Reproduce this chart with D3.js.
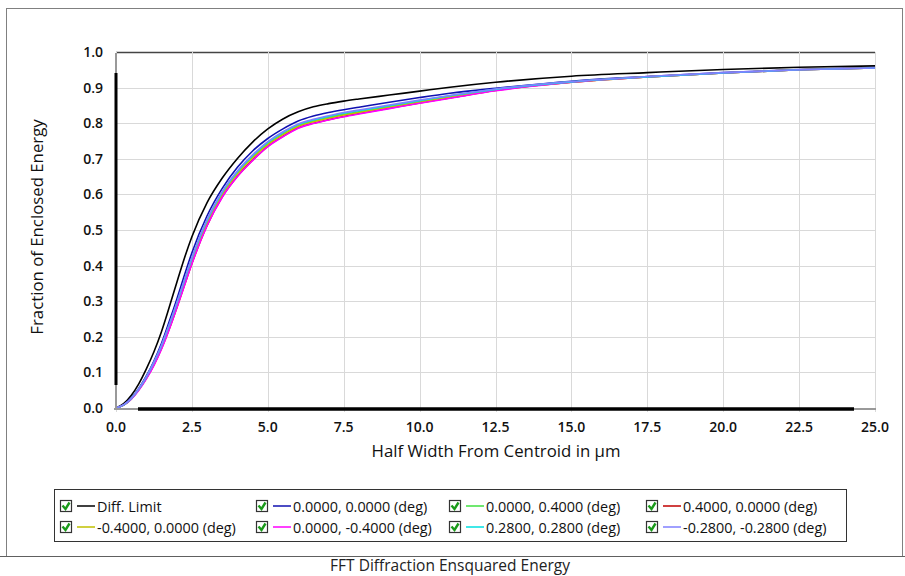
<!DOCTYPE html>
<html lang="en">
<head>
<meta charset="UTF-8">
<title>FFT Diffraction Ensquared Energy</title>
<style>
  body { margin: 0; background: #fff; }
  svg { display: block; font-family: "Open Sans", "Noto Sans", sans-serif; }
</style>
</head>
<body>
<script src="https://d3js.org/d3.v7.min.js"></script>
<script>
// half width from centroid (um)
var halfWidth = [0, 0.25, 0.5, 0.75, 1.0, 1.25, 1.5, 1.75, 2.0, 2.25, 2.5, 3.0, 3.5, 4.0, 4.5, 5.0, 5.5, 6.0, 6.5, 7.0, 7.5, 8, 9, 10, 11, 12.5, 15, 17.5, 20, 22.5, 25];

var diffLimit = [0, 0.012, 0.035, 0.068, 0.110, 0.158, 0.215, 0.282, 0.352, 0.420, 0.481, 0.577, 0.646, 0.701, 0.747, 0.784, 0.812, 0.832, 0.846, 0.855, 0.862, 0.868, 0.879, 0.890, 0.901, 0.915, 0.932, 0.942, 0.951, 0.957, 0.961];
var f00_00 = [0, 0.009, 0.028, 0.055, 0.090, 0.132, 0.182, 0.242, 0.305, 0.372, 0.436, 0.540, 0.617, 0.676, 0.722, 0.757, 0.784, 0.806, 0.820, 0.830, 0.838, 0.845, 0.859, 0.872, 0.884, 0.898, 0.918, 0.931, 0.942, 0.951, 0.956];
var f00_04 = [0, 0.008, 0.026, 0.052, 0.085, 0.125, 0.172, 0.228, 0.288, 0.352, 0.415, 0.522, 0.602, 0.660, 0.705, 0.742, 0.770, 0.793, 0.806, 0.816, 0.825, 0.832, 0.847, 0.861, 0.875, 0.894, 0.916, 0.930, 0.941, 0.950, 0.955];
var f04_00 = [0, 0.008, 0.025, 0.051, 0.083, 0.121, 0.167, 0.221, 0.281, 0.344, 0.406, 0.513, 0.593, 0.651, 0.696, 0.735, 0.763, 0.787, 0.800, 0.810, 0.819, 0.827, 0.842, 0.857, 0.871, 0.892, 0.915, 0.930, 0.941, 0.950, 0.955];
var fm04_00 = [0, 0.008, 0.026, 0.052, 0.084, 0.124, 0.171, 0.226, 0.286, 0.350, 0.413, 0.520, 0.600, 0.658, 0.703, 0.740, 0.768, 0.791, 0.804, 0.814, 0.823, 0.830, 0.845, 0.859, 0.873, 0.893, 0.915, 0.930, 0.941, 0.950, 0.955];
var f00_m04 = [0, 0.008, 0.025, 0.050, 0.082, 0.120, 0.166, 0.220, 0.280, 0.343, 0.405, 0.512, 0.592, 0.650, 0.695, 0.734, 0.762, 0.786, 0.799, 0.809, 0.818, 0.826, 0.841, 0.856, 0.870, 0.891, 0.915, 0.930, 0.941, 0.950, 0.955];
var f028_028 = [0, 0.008, 0.026, 0.053, 0.087, 0.128, 0.175, 0.232, 0.293, 0.357, 0.420, 0.527, 0.606, 0.664, 0.709, 0.746, 0.774, 0.796, 0.809, 0.819, 0.828, 0.835, 0.849, 0.863, 0.877, 0.895, 0.916, 0.930, 0.941, 0.950, 0.955];
var fm028_m028 = [0, 0.009, 0.027, 0.054, 0.088, 0.129, 0.177, 0.234, 0.295, 0.359, 0.422, 0.529, 0.608, 0.666, 0.711, 0.748, 0.776, 0.798, 0.811, 0.821, 0.830, 0.837, 0.851, 0.865, 0.878, 0.896, 0.917, 0.931, 0.942, 0.950, 0.955];

var seriesNames = ["Diff. Limit", "0.0000, 0.0000 (deg)", "0.0000, 0.4000 (deg)", "0.4000, 0.0000 (deg)",
                   "-0.4000, 0.0000 (deg)", "0.0000, -0.4000 (deg)", "0.2800, 0.2800 (deg)", "-0.2800, -0.2800 (deg)"];
var seriesColors = ["#000000", "#1010b0", "#40e040", "#c00000", "#c0c000", "#ff00ff", "#00e0e0", "#8080ff"];
var seriesValues = [diffLimit, f00_00, f00_04, f04_00, fm04_00, f00_m04, f028_028, fm028_m028];

var xTicks = [0, 2.5, 5, 7.5, 10, 12.5, 15, 17.5, 20, 22.5, 25];
var yTicks = [0, 0.1, 0.2, 0.3, 0.4, 0.5, 0.6, 0.7, 0.8, 0.9, 1.0];

var width = 905, height = 576;
var plot = { left: 116, right: 875, top: 52, bottom: 408 };

var svg = d3.select('body').append('svg').attr('width', width).attr('height', height);

var x = d3.scaleLinear().domain([0, 25]).range([plot.left, plot.right]);
var y = d3.scaleLinear().domain([0, 1]).range([plot.bottom, plot.top]);

// outer frame
svg.append('rect').attr('x', 6.5).attr('y', 8.5).attr('width', 896).attr('height', 548)
    .attr('fill', 'none').attr('stroke', '#808080');
svg.append('line').attr('x1', 0).attr('x2', width).attr('y1', 556.5).attr('y2', 556.5)
    .attr('stroke', '#606060');

// grid
svg.append('g').selectAll('line').data(yTicks).enter().append('line')
    .attr('x1', plot.left).attr('x2', plot.right)
    .attr('y1', function(d) { return Math.round(y(d)) + 0.5; })
    .attr('y2', function(d) { return Math.round(y(d)) + 0.5; })
    .attr('stroke', function(d) { return d === 1 ? '#444' : '#d9d9d9'; })
    .attr('stroke-width', function(d) { return d === 1 ? 1.5 : 1; });
svg.append('g').selectAll('line').data(xTicks).enter().append('line')
    .attr('x1', function(d) { return Math.round(x(d)) + 0.5; })
    .attr('x2', function(d) { return Math.round(x(d)) + 0.5; })
    .attr('y1', plot.top).attr('y2', plot.bottom + 4)
    .attr('stroke', '#d9d9d9');

// curves
var line = d3.line()
    .x(function(d) { return x(d[0]); })
    .y(function(d) { return y(d[1]); })
    .curve(d3.curveMonotoneX);

seriesValues.forEach(function(vals, i) {
    svg.append('path')
        .datum(halfWidth.map(function(h, j) { return [h, vals[j]]; }))
        .attr('fill', 'none')
        .attr('stroke', seriesColors[i])
        .attr('stroke-width', 1.6)
        .attr('d', line);
});

// axis bars (scroll-like thick lines)
svg.append('line').attr('x1', plot.left).attr('x2', plot.left).attr('y1', plot.top + 1).attr('y2', 73)
    .attr('stroke', '#999').attr('stroke-width', 2);
svg.append('line').attr('x1', plot.left).attr('x2', plot.left).attr('y1', 73).attr('y2', 385)
    .attr('stroke', '#000').attr('stroke-width', 3);
svg.append('line').attr('x1', plot.left).attr('x2', plot.left).attr('y1', 385).attr('y2', plot.bottom)
    .attr('stroke', '#999').attr('stroke-width', 2);
svg.append('line').attr('x1', plot.left - 2).attr('x2', 138).attr('y1', plot.bottom + 1).attr('y2', plot.bottom + 1)
    .attr('stroke', '#999').attr('stroke-width', 2);
svg.append('line').attr('x1', 138).attr('x2', 854).attr('y1', plot.bottom + 1).attr('y2', plot.bottom + 1)
    .attr('stroke', '#000').attr('stroke-width', 3.5);
svg.append('line').attr('x1', 854).attr('x2', plot.right + 1).attr('y1', plot.bottom + 1).attr('y2', plot.bottom + 1)
    .attr('stroke', '#999').attr('stroke-width', 2);

// tick labels
svg.append('g').selectAll('text').data(yTicks).enter().append('text')
    .attr('x', 103).attr('y', function(d) { return y(d) + 5; })
    .attr('text-anchor', 'end')
    .attr('font-size', 14).attr('font-weight', 600).attr('fill', '#111')
    .text(function(d) { return d.toFixed(1); });
svg.append('g').selectAll('text').data(xTicks).enter().append('text')
    .attr('x', function(d) { return x(d); }).attr('y', 432)
    .attr('text-anchor', 'middle')
    .attr('font-size', 14).attr('font-weight', 600).attr('fill', '#111')
    .text(function(d) { return d.toFixed(1); });

// axis titles
svg.append('text').attr('x', 496).attr('y', 457).attr('text-anchor', 'middle')
    .attr('font-size', 16.8).attr('font-weight', 500).attr('fill', '#111')
    .text('Half Width From Centroid in \u00b5m');
svg.append('text').attr('transform', 'translate(43,227) rotate(-90)').attr('text-anchor', 'middle')
    .attr('font-size', 16.8).attr('font-weight', 500).attr('fill', '#111')
    .text('Fraction of Enclosed Energy');

// legend
svg.append('rect').attr('x', 54.5).attr('y', 489.5).attr('width', 792).attr('height', 52)
    .attr('fill', '#fff').attr('stroke', '#333');
var colX = [60, 256, 449, 646];
var rowY = [506, 527];
var items = svg.append('g').selectAll('g').data(seriesNames).enter().append('g')
    .attr('transform', function(d, i) {
        return 'translate(' + colX[i % 4] + ',' + rowY[Math.floor(i / 4)] + ')';
    });
items.append('rect').attr('x', 0.5).attr('y', -5.5).attr('width', 11).attr('height', 11)
    .attr('fill', '#fff').attr('stroke', '#333').attr('stroke-width', 1.2);
items.append('path').attr('d', 'M2.5,-0.5 L5.5,3 L9.5,-3.5')
    .attr('fill', 'none').attr('stroke', '#1a9a1a').attr('stroke-width', 2.4);
items.append('line').attr('x1', 17).attr('x2', 35).attr('y1', 0).attr('y2', 0)
    .attr('stroke', function(d, i) { return seriesColors[i]; }).attr('stroke-width', 1.5);
items.append('text').attr('x', 37).attr('y', 5.5)
    .attr('font-size', 14.4).attr('font-weight', 500).attr('fill', '#111')
    .text(function(d) { return d; });

// title at the bottom edge
svg.append('text').attr('x', 450).attr('y', 571).attr('text-anchor', 'middle')
    .attr('font-size', 15.5).attr('fill', '#222')
    .text('FFT Diffraction Ensquared Energy');
</script>
</body>
</html>
